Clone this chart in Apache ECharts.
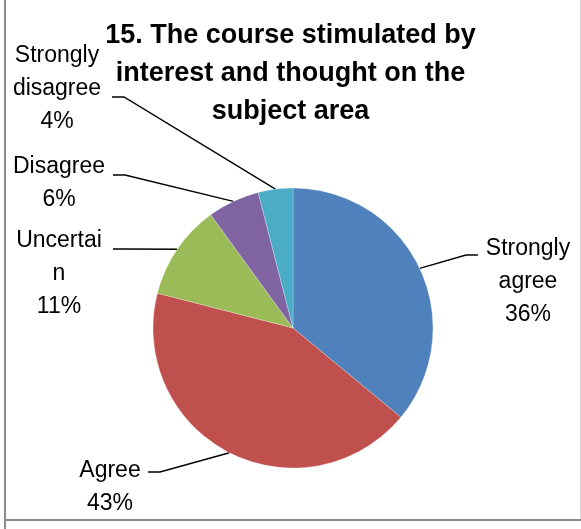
<!DOCTYPE html>
<html><head><meta charset="utf-8">
<script src="https://cdn.jsdelivr.net/npm/echarts@6/dist/echarts.min.js"></script>
<style>html,body{margin:0;padding:0;background:#fff}#c{width:581px;height:529px}</style>
</head><body><div id="c"></div>
<script>
// ---- data ----
const categories = ['Strongly agree', 'Agree', 'Uncertain', 'Disagree', 'Strongly disagree'];
const labelTexts = ['Strongly\nagree', 'Agree', 'Uncertai\nn', 'Disagree', 'Strongly\ndisagree'];
const values = [36, 43, 11, 6, 4];
const colors = ['#4F81BD', '#C0504D', '#9BBB59', '#8064A2', '#4BACC6'];
const titleText = '15. The course stimulated by\ninterest and thought on the\nsubject area';

// ---- layout (positions of label blocks and leader-line anchors) ----
const labelCenters = [[528, 282], [110, 487], [59, 274], [59, 183], [57, 89]];
const lineAnchors = [[478, 255], [148, 472], [113, 249], [113, 175], [112, 97]];
const elbowLen = 12;

const FONT = '"Liberation Sans", Arial, sans-serif';
const chart = echarts.init(document.getElementById('c'), null, {renderer: 'canvas'});

chart.setOption({
  backgroundColor: '#ffffff',
  animation: false,
  title: {
    text: titleText,
    left: 'center',
    top: 17,
    padding: 0,
    textStyle: {fontFamily: FONT, fontSize: 27, fontWeight: 'bold', color: '#000', lineHeight: 38}
  },
  graphic: [
    {type: 'line', shape: {x1: 5, y1: 0, x2: 5, y2: 529}, style: {stroke: '#8c8c8c', lineWidth: 2}, silent: true},
    {type: 'line', shape: {x1: 4, y1: 520, x2: 581, y2: 520}, style: {stroke: '#8c8c8c', lineWidth: 2}, silent: true},
    {type: 'line', shape: {x1: 580.5, y1: 0, x2: 580.5, y2: 519}, style: {stroke: '#d4d4d4', lineWidth: 1}, silent: true}
  ],
  series: [{
    type: 'pie',
    center: [293, 328],
    radius: 140,
    startAngle: 90,
    clockwise: true,
    avoidLabelOverlap: false,
    itemStyle: {borderColor: 'rgba(255,255,255,0.5)', borderWidth: 0.5},
    data: categories.map((c, i) => ({name: c, value: values[i], itemStyle: {color: colors[i]}})),
    label: {
      show: true,
      position: 'outside',
      fontFamily: FONT,
      fontSize: 23,
      lineHeight: 33,
      color: '#000',
      align: 'center',
      formatter: p => labelTexts[p.dataIndex] + '\n' + Math.round(p.percent) + '%'
    },
    labelLine: {show: true, lineStyle: {color: '#000', width: 1.4}},
    labelLayout: function (params) {
      const i = params.dataIndex;
      const c = labelCenters[i];
      const a = lineAnchors[i];
      const p0 = params.labelLinePoints[0];
      const right = a[0] > 293;
      const elbow = [right ? a[0] - elbowLen : a[0] + elbowLen, a[1]];
      return {
        x: c[0], y: c[1], align: 'center', verticalAlign: 'middle',
        labelLinePoints: [p0, elbow, a]
      };
    }
  }]
});
</script>
</body></html>
